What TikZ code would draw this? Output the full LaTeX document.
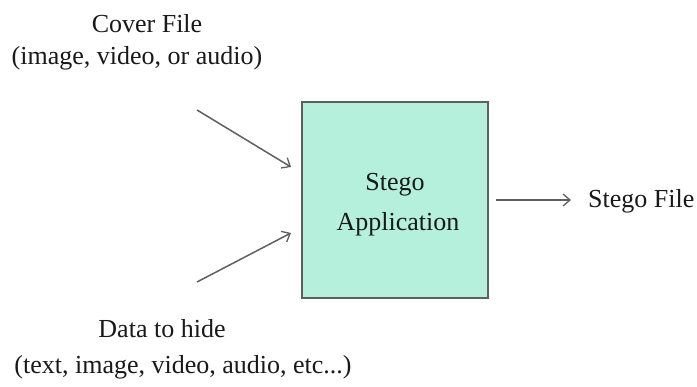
\documentclass[tikz,border=0pt]{standalone}
\usepackage{fontspec}
\setmainfont{Liberation Serif}
\usetikzlibrary{arrows.meta}
\definecolor{boxfill}{RGB}{180,240,220}
\definecolor{linegray}{RGB}{95,95,95}
\tikzset{
  lbl/.style={font=\fontsize{26}{30}\selectfont, text=black!90, inner sep=0pt, anchor=base},
  conn/.style={draw=linegray, line width=1.5pt, -{Straight Barb[length=7pt,width=12pt,line width=1.3pt]}},
  appbox/.style={draw=linegray, line width=2pt, fill=boxfill, minimum width=186pt, minimum height=196pt, inner sep=0pt}
}
\begin{document}
\begin{tikzpicture}[x=1pt,y=-1pt]
\useasboundingbox (0,0) rectangle (697,387);
\node[appbox] (app) at (395,200) {};
\node[lbl] (applbl1) at (395,191) {Stego};
\node[lbl] (applbl2) at (398,231) {Application};
\node[lbl] (cover1) at (147,33) {Cover File};
\node[lbl] (cover2) at (137,65) {(image, video, or audio)};
\node[lbl] (data1) at (162,338) {Data to hide};
\node[lbl] (data2) at (183,374) {(text, image, video, audio, etc...)};
\node[lbl, anchor=base west] (out) at (588,208) {Stego File};
\coordinate (c1s) at (197,110);
\coordinate (c1e) at (291,167);
\coordinate (c2s) at (197,282);
\coordinate (c2e) at (291,233);
\coordinate (oute) at (571,200);
\draw[conn] (c1s) -- (c1e);
\draw[conn] (c2s) -- (c2e);
\draw[conn, shorten <=7pt] (app.east |- oute) -- (oute);
\end{tikzpicture}
\end{document}
